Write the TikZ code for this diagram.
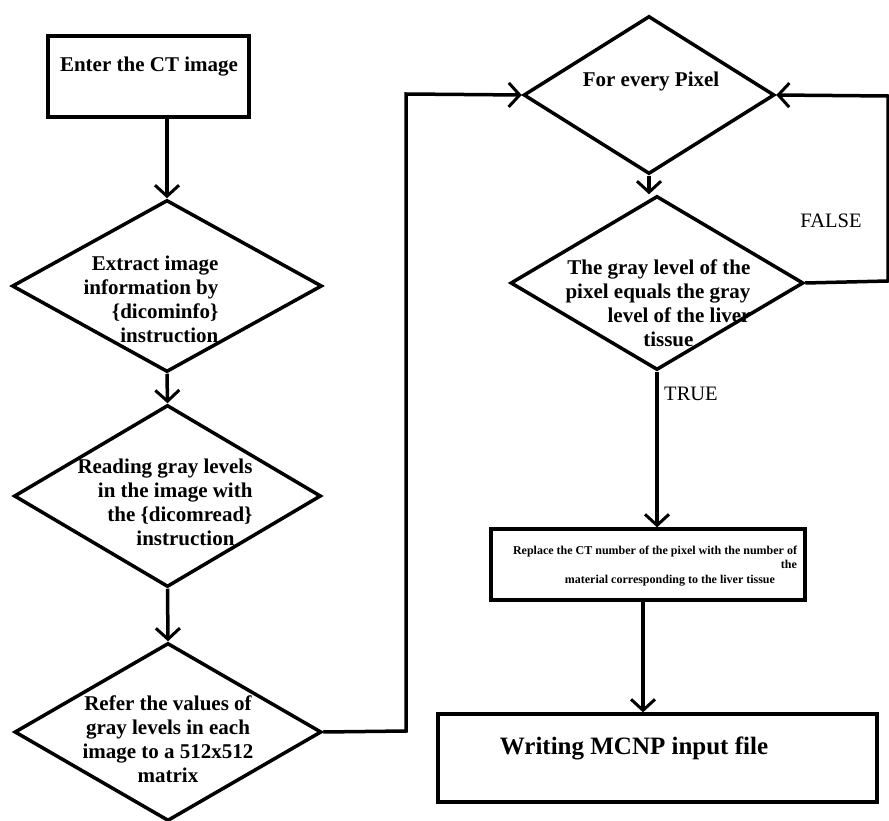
\documentclass[tikz,border=0pt]{standalone}
\usepackage{fontspec}
\setmainfont{Liberation Serif}
\usetikzlibrary{shapes.geometric,arrows.meta}
\tikzset{
  diam/.style={draw, diamond, line width=3.5pt, inner sep=0pt, line join=miter},
  boxr/.style={draw, rectangle, line width=3.3pt, inner sep=0pt},
  big/.style={font=\bfseries\fontsize{21}{24}\selectfont, inner sep=0pt},
  small/.style={font=\bfseries\fontsize{12}{14.5}\selectfont, inner sep=0pt},
  lab/.style={font=\fontsize{20.5}{24}\selectfont, inner sep=0pt},
  arr/.style={line width=3.5pt, -{Straight Barb[length=11pt,width=24pt,line width=3pt]}},
}
\begin{document}
\begin{tikzpicture}[x=1pt,y=-1pt]
\useasboundingbox (0,0) rectangle (889,821);
% left column
\node[boxr, minimum width=201, minimum height=81] (b1) at (148.5,76.5) {};
\node[big] (b1t) at (149,67) {Enter the CT image};
\node[diam, minimum width=310, minimum height=172] (d1) at (167,286) {};
\node[big, align=right] (d1t) at (151,299) {Extract image\\information by\\{\{}dicominfo{\}}\\instruction};
\node[diam, minimum width=307, minimum height=182] (d2) at (167.5,496) {};
\node[big, align=right] (d2t) at (165,502) {Reading gray levels\\in the image with\\the {\{}dicomread{\}}\\instruction\hspace*{18pt}};
\node[diam, minimum width=307, minimum height=178] (d3) at (168,732) {};
\node[big, align=center] (d3t) at (168,739) {Refer the values of\\gray levels in each\\image to a 512x512\\matrix};
% right column
\node[diam, minimum width=251, minimum height=158] (d4) at (649,95) {};
\node[big] (d4t) at (651,81) {For every Pixel};
\node[diam, minimum width=293, minimum height=174] (d5) at (657,283) {};
\node[big, align=right] (d5t) at (658,303) {The gray level of the\\pixel equals the gray\\level of the liver\\tissue\hspace*{57pt}};
\node[boxr, minimum width=314, minimum height=71] (r1) at (648,564.5) {};
\node[small, align=right] (r1t) at (655,566) {Replace the CT number of the pixel with the number of\\the\\material corresponding to the liver tissue\hspace*{22pt}};
\node[boxr, minimum width=439, minimum height=88] (w1) at (657.5,758) {};
\node[font=\bfseries\fontsize{25}{28}\selectfont, inner sep=0pt] (w1t) at (634,748) {Writing MCNP input file};
\node[lab] (tl) at (691,394) {TRUE};
\node[lab] (fl) at (831,221) {FALSE};
% connectors
\coordinate (c1) at (406,731);
\coordinate (c2) at (406,94);
\coordinate (c3) at (888,281);
\coordinate (c4) at (888,96);
\draw[arr] (d1.north |- b1.south) -- (d1.north);
\draw[arr] (d1.south) -- (d2.north);
\draw[arr] (d2.south) -- (d3.north);
\draw[arr] (d3.east) -- (c1) -- (c2) -- (d4.west);
\draw[arr] (d4.south) -- (d4.south |- d5.north);
\draw[arr] (d5.east) -- (c3) -- (c4) -- (d4.east);
\draw[arr] (d5.south) -- (d5.south |- r1.north);
\draw[arr] ([xshift=-5pt]r1.south) -- ([xshift=-5pt]r1.south |- w1.north);
\end{tikzpicture}
\end{document}
